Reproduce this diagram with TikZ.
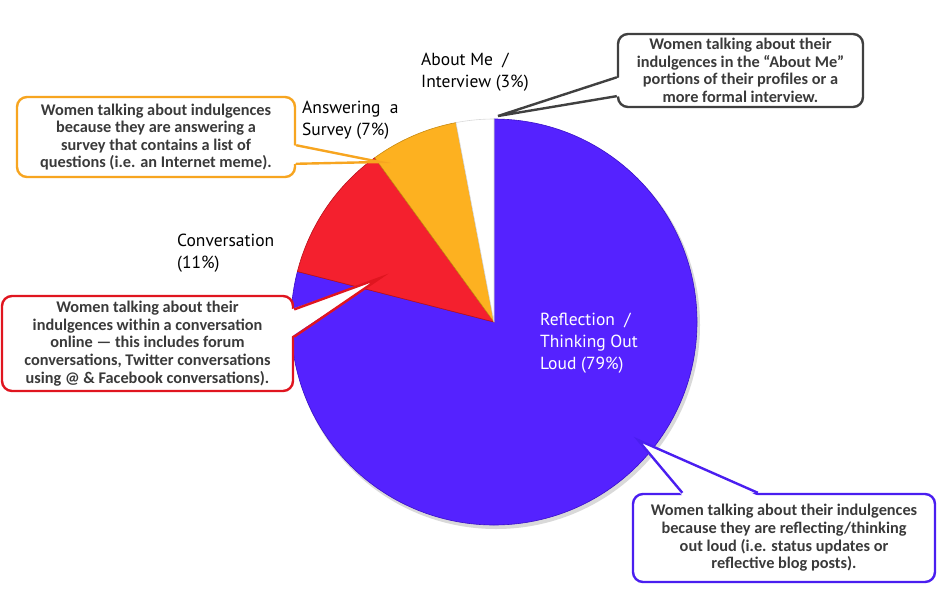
\documentclass[tikz,border=0pt]{standalone}
\usepackage{fontspec}
\usetikzlibrary{calc}
\newfontfamily\callfont{Carlito}
\newfontfamily\labfont{PT Sans}
\definecolor{pPurple}{HTML}{5522FF}
\definecolor{pPurpleE}{HTML}{3A10C8}
\definecolor{pRed}{HTML}{F4202E}
\definecolor{pRedE}{HTML}{B8101A}
\definecolor{pYellow}{HTML}{FDB120}
\definecolor{pYellowE}{HTML}{C88A10}
\definecolor{cOrange}{HTML}{F7A520}
\definecolor{cGrey}{HTML}{404040}
\definecolor{cRed}{HTML}{E0151F}
\definecolor{cPurple}{HTML}{4A1EF0}
\definecolor{txtGrey}{HTML}{3A3A3A}
\tikzset{
  callbox/.style={draw=#1, line width=2.4pt, fill=white, rounded corners=10pt,
    inner sep=0pt, align=center, text=txtGrey,
    font=\callfont\bfseries\fontsize{16.3}{17.6}\selectfont},
  callside/.style={draw=#1, line width=2.4pt, line join=miter},
  pielab/.style={anchor=base west, align=left, inner sep=0pt,
    font=\labfont\fontsize{17.5}{21.8}\selectfont},
  slice/.style={line width=0.6pt, line join=round},
}
\begin{document}
\begin{tikzpicture}[x=1pt, y=-1pt]
\useasboundingbox (0,0) rectangle (944,597);
\fill[white] (0,0) rectangle (944,597);

% ---- pie ----
\begin{scope}[shift={(494,322)}, y=1pt]
  \fill[black!15] (2,-3) circle[radius=204];
  \filldraw[slice, fill=pPurple, draw=pPurpleE] (0,0) -- (90:203) arc[start angle=90, end angle=-194.4, radius=203] -- cycle;
  \filldraw[slice, fill=pRed, draw=pRedE] (0,0) -- (165.6:203) arc[start angle=165.6, end angle=126, radius=203] -- cycle;
  \filldraw[slice, fill=pYellow, draw=pYellowE] (0,0) -- (126:203) arc[start angle=126, end angle=100.8, radius=203] -- cycle;
  \filldraw[slice, fill=white, draw=black!15] (0,0) -- (100.8:203) arc[start angle=100.8, end angle=90, radius=203] -- cycle;
\end{scope}

% ---- slice labels (anchor = baseline of last line) ----
\node[pielab] (labAbout) at (421,87) {About Me\ \ /\\Interview\ (3\%)};
\node[pielab] (labSurvey) at (302,135) {Answering\ \ a\\Survey\ (7\%)};
\node[pielab] (labConv) at (177,268) {Conversation\\(11\%)};
\node[pielab, text=white] (labRefl) at (540,369) {Reflection\ \ /\\Thinking\ Out\\Loud\ (79\%)};

% ---- callout tips ----
\coordinate (tipO) at (380,162);
\coordinate (tipG) at (498,116);
\coordinate (tipR) at (380,278);
\coordinate (tipP) at (638,440);

% ---- orange callout ----
\node[callbox=cOrange, minimum width=278pt, minimum height=80pt] (boxO) at (156,137)
  {Women talking about indulgences\\because they are answering a\\survey that contains a list of\\questions (i.e. an Internet meme).};
\coordinate (oA) at ($(boxO.north east)!0.6!(boxO.south east)$);
\coordinate (oB) at ($(boxO.north east)!0.825!(boxO.south east)$);
\fill[white] ($(oA)+(-3,0)$) -- (tipO) -- ($(oB)+(-3,0)$) -- cycle;
\draw[callside=cOrange] (oA) -- (tipO) -- (oB);

% ---- grey callout ----
\node[callbox=cGrey, minimum width=245pt, minimum height=73pt] (boxG) at (740.5,70.5)
  {Women talking about their\\indulgences in the “About Me”\\portions of their profiles or a\\more formal interview.};
\coordinate (gA) at ($(boxG.north west)!0.59!(boxG.south west)$);
\coordinate (gB) at ($(boxG.north west)!0.84!(boxG.south west)$);
\fill[white] ($(gA)+(3,0)$) -- (tipG) -- ($(gB)+(3,0)$) -- cycle;
\draw[callside=cGrey] (gA) -- (tipG) -- (gB);

% ---- red callout ----
\node[callbox=cRed, minimum width=291pt, minimum height=95pt] (boxR) at (147.5,343.5)
  {Women talking about their\\indulgences within a conversation\\online — this includes forum\\conversations, Twitter conversations\\using @ \& Facebook conversations).};
\coordinate (rA) at ($(boxR.north east)!0.15!(boxR.south east)$);
\coordinate (rB) at ($(boxR.north east)!0.43!(boxR.south east)$);
\fill[white] ($(rA)+(-3,0)$) -- (tipR) -- ($(rB)+(-3,0)$) -- cycle;
\draw[callside=cRed] (rA) -- (tipR) -- (rB);

% ---- purple callout ----
\node[callbox=cPurple, minimum width=302pt, minimum height=88pt] (boxP) at (784,538)
  {Women talking about their indulgences\\because they are reflecting/thinking\\out loud (i.e. status updates or\\reflective blog posts).};
\coordinate (pA) at ($(boxP.north west)!0.166!(boxP.north east)$);
\coordinate (pB) at ($(boxP.north west)!0.414!(boxP.north east)$);
\fill[white] ($(pA)+(0,3)$) -- (tipP) -- ($(pB)+(0,3)$) -- cycle;
\draw[callside=cPurple] (pA) -- (tipP) -- (pB);
\end{tikzpicture}
\end{document}
